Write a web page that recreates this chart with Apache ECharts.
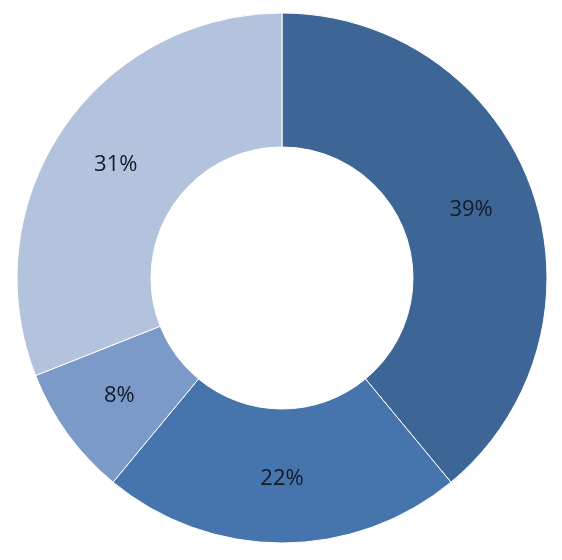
<!DOCTYPE html>
<html>
<head>
<meta charset="utf-8">
<script src="https://cdn.jsdelivr.net/npm/echarts@6/dist/echarts.min.js"></script>
<style>html,body{margin:0;padding:0;background:#fff}#c{width:562px;height:560px}</style>
</head>
<body>
<div id="c"></div>
<script>
const categories = ['A', 'B', 'C', 'D'];
const values = [39, 22, 8, 31];
const colors = ['#3D6697', '#4675AD', '#7C9AC8', '#B3C3DE'];

const chart = echarts.init(document.getElementById('c'), null, {renderer: 'canvas'});
chart.setOption({
  animation: false,
  series: [{
    type: 'pie',
    center: [282, 278],
    radius: [131, 265],
    startAngle: 90,
    clockwise: true,
    data: categories.map((c, i) => ({name: c, value: values[i], itemStyle: {color: colors[i]}})),
    itemStyle: {borderColor: '#ffffff', borderWidth: 1},
    label: {
      show: true,
      position: 'inside',
      formatter: p => p.value + '%',
      fontFamily: 'Open Sans',
      fontSize: 22,
      color: '#141a28'
    },
    labelLine: {show: false},
    emphasis: {disabled: true}
  }]
});
</script>
</body>
</html>
